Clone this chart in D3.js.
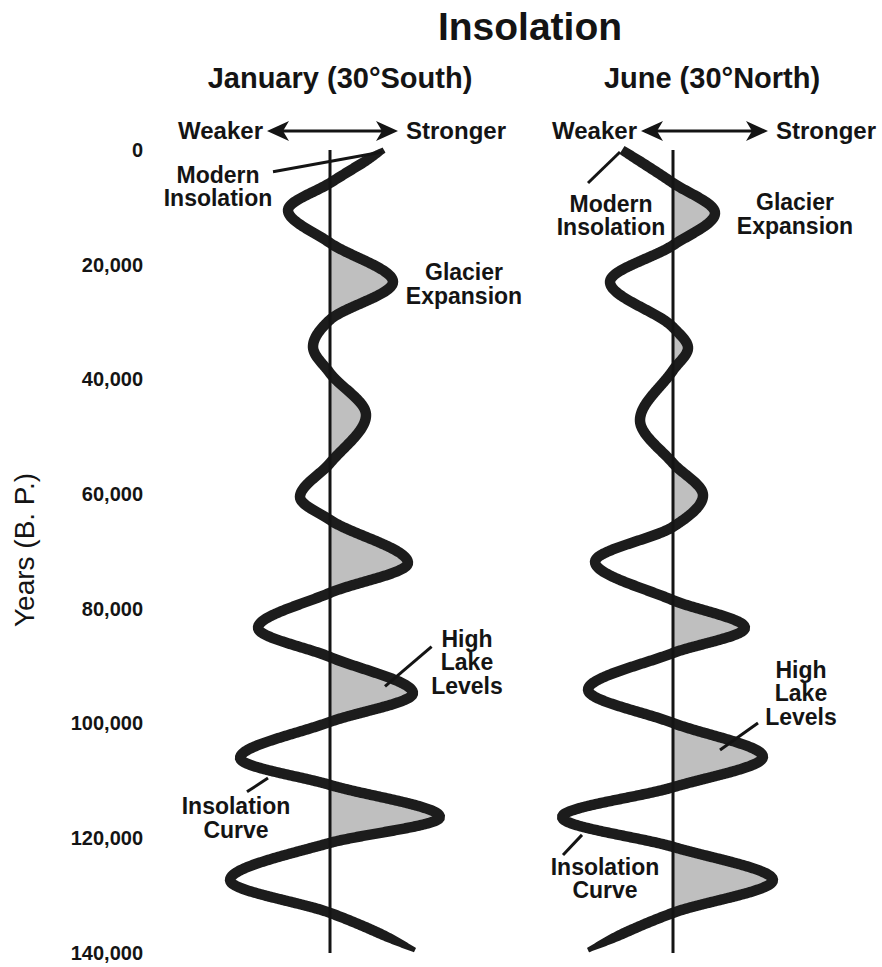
<!DOCTYPE html>
<html>
<head>
<meta charset="utf-8">
<script src="https://cdn.jsdelivr.net/npm/d3@7"></script>
<style>
  body { margin: 0; background: #fff; }
  svg { display: block; font-family: "Liberation Sans", Arial, Helvetica, sans-serif; }
</style>
</head>
<body>
<svg id="chart" width="882" height="967"></svg>
<script>
// Years before present shown on the vertical axis
const yearTicks = [0, 20000, 40000, 60000, 80000, 100000, 120000, 140000];

// January insolation at 30°S: relative anomaly (positive = stronger)
const janYears  = [0, 5750, 10500, 16200, 23000, 29600, 34300, 38900, 46200, 54600, 60500, 64500,
                   72000, 77200, 83300, 88400, 94700, 99700, 106000, 110700, 116300, 120800, 127300, 133000, 139500];
const janValues = [27, 0, -21, 0, 31.5, 0, -8.5, 0, 18, 0, -15, 0,
                   39, 0, -36, 0, 41.5, 0, -45, 0, 55, 0, -50, 0, 42.5];

// June insolation at 30°N: relative anomaly (positive = stronger)
const junYears  = [0, 5750, 11000, 16600, 23000, 30900, 34500, 38400, 47100, 54600, 60200, 65700,
                   71800, 78500, 83300, 87700, 94100, 99900, 105800, 111100, 116300, 121500, 127300, 133000, 139500];
const junValues = [-25.5, 0, 21, 0, -31.5, 0, 7.5, 0, -16.5, 0, 15, 0,
                   -39, 0, 36, 0, -42.5, 0, 45, 0, -55.5, 0, 50, 0, -42.5];

// Shaded (positive) portion of each record, in years
const janShade = [5750, 133000];
const junShade = [0, 140000];

const svg = d3.select("#chart");
const ink = "#141414";

const y = d3.scaleLinear().domain([0, 140000]).range([150, 953]);

// Title
svg.append("text")
  .attr("x", 530).attr("y", 40)
  .attr("text-anchor", "middle")
  .attr("font-size", 39).attr("font-weight", "bold").attr("fill", ink)
  .text("Insolation");

// Year axis
const yAxis = d3.axisLeft(y).tickValues(yearTicks).tickSize(0).tickPadding(0)
  .tickFormat(d3.format(","));
const gy = svg.append("g").attr("transform", "translate(143,0)").call(yAxis);
gy.select(".domain").remove();
gy.selectAll("text")
  .attr("font-family", "'Liberation Sans', Arial, sans-serif")
  .attr("font-size", 20).attr("font-weight", "bold").attr("fill", ink);

svg.append("text")
  .attr("transform", "translate(34,550) rotate(-90)")
  .attr("text-anchor", "middle")
  .attr("font-size", 28).attr("fill", ink)
  .text("Years (B. P.)");

const panels = [
  {
    header: "January (30°South)", cx: 330, headerDx: 10, arrow: [267, 398],
    years: janYears, values: janValues, shade: janShade, taper: [0.55, 0.45],
    notes: [
      { lines: ["Modern", "Insolation"], at: [-56, 5750], lead: [[-28.5, 3800], [26, 350]] },
      { lines: ["Glacier", "Expansion"], at: [67, 22700] },
      { lines: ["High", "Lake", "Levels"], at: [68.5, 86600], lead: [[50.8, 86600], [27.5, 93500]] },
      { lines: ["Insolation", "Curve"], at: [-47, 115800], lead: [[-41.5, 111900], [-31, 109500]] }
    ]
  },
  {
    header: "June (30°North)", cx: 673, headerDx: 39, arrow: [641, 768],
    years: junYears, values: junValues, shade: junShade, taper: [0.9, 0.45],
    notes: [
      { lines: ["Modern", "Insolation"], at: [-31, 10800], lead: [[-42.5, 5750], [-26.5, 350]] },
      { lines: ["Glacier", "Expansion"], at: [61, 10500] },
      { lines: ["High", "Lake", "Levels"], at: [64, 92000], lead: [[42.5, 99900], [23.5, 104600]] },
      { lines: ["Insolation", "Curve"], at: [-34, 126400], lead: [[-55, 122900], [-45.5, 119400]] }
    ]
  }
];

// Turn a centre-line path into a filled ribbon whose width eases off at both ends
function ribbon(pathNode, width, taper) {
  const L = pathNode.getTotalLength();
  const step = 1.5, n = Math.ceil(L / step);
  const pts = d3.range(n + 1).map(k => pathNode.getPointAtLength(Math.min(L, k * step)));
  const left = [], right = [];
  pts.forEach((p, k) => {
    const a = pts[Math.max(0, k - 1)], b = pts[Math.min(pts.length - 1, k + 1)];
    let dx = b.x - a.x, dy = b.y - a.y;
    const len = Math.hypot(dx, dy) || 1;
    dx /= len; dy /= len;
    const s = k * step;
    let f = 1;
    if (s < 28) f = taper[0] + (1 - taper[0]) * d3.easeSinOut(s / 28);
    if (L - s < 45) f = Math.min(f, taper[1] + (1 - taper[1]) * d3.easeSinOut((L - s) / 45));
    const h = width * f / 2;
    left.push([p.x - dy * h, p.y + dx * h]);
    right.push([p.x + dy * h, p.y - dx * h]);
  });
  return "M" + left.concat(right.reverse()).map(q => q[0].toFixed(2) + "," + q[1].toFixed(2)).join("L") + "Z";
}

panels.forEach((p, i) => {
  const x = d3.scaleLinear().domain([-60, 60]).range([p.cx - 120, p.cx + 120]);
  const pts = p.years.map((yr, k) => ({ year: yr, value: p.values[k] }));
  const g = svg.append("g");

  // Header
  g.append("text")
    .attr("x", p.cx + p.headerDx).attr("y", 88)
    .attr("text-anchor", "middle")
    .attr("font-size", 29).attr("font-weight", "bold").attr("fill", ink)
    .text(p.header);

  // Weaker <-> Stronger arrow
  const ay = 131, [xa, xb] = p.arrow, hl = 22, hh = 10, notch = 6;
  g.append("line")
    .attr("x1", xa + hl - notch).attr("x2", xb - hl + notch)
    .attr("y1", ay).attr("y2", ay)
    .attr("stroke", ink).attr("stroke-width", 3);
  g.append("path")
    .attr("d", `M${xa},${ay} L${xa + hl},${ay - hh} L${xa + hl - notch},${ay} L${xa + hl},${ay + hh} Z` +
               `M${xb},${ay} L${xb - hl},${ay - hh} L${xb - hl + notch},${ay} L${xb - hl},${ay + hh} Z`)
    .attr("fill", ink);
  g.append("text")
    .attr("x", xa - 4).attr("y", 139).attr("text-anchor", "end")
    .attr("font-size", 24).attr("font-weight", "bold").attr("fill", ink)
    .text("Weaker");
  g.append("text")
    .attr("x", xb + 8).attr("y", 139).attr("text-anchor", "start")
    .attr("font-size", 24).attr("font-weight", "bold").attr("fill", ink)
    .text("Stronger");

  // Shaded stronger-than-modern lobes
  const clipId = "clip" + i;
  g.append("clipPath").attr("id", clipId)
    .append("rect")
    .attr("x", x(0)).attr("width", 200)
    .attr("y", y(p.shade[0])).attr("height", y(p.shade[1]) - y(p.shade[0]));

  const area = d3.area()
    .y(d => y(d.year))
    .x0(x(0))
    .x1(d => x(d.value))
    .curve(d3.curveMonotoneY);
  g.append("path")
    .datum(pts)
    .attr("d", area)
    .attr("fill", "#bfbfbf")
    .attr("clip-path", `url(#${clipId})`);

  // Insolation curve: centre line built by the line generator, drawn as a tapered ribbon
  const line = d3.line()
    .y(d => y(d.year))
    .x(d => x(d.value))
    .curve(d3.curveMonotoneY);
  const guide = g.append("path")
    .datum(pts)
    .attr("d", line)
    .attr("fill", "none")
    .attr("stroke", "none");
  g.append("path")
    .attr("d", ribbon(guide.node(), 10.5, p.taper))
    .attr("fill", "#1c1c1c");

  // Modern reference line
  g.append("line")
    .attr("x1", x(0)).attr("x2", x(0))
    .attr("y1", y(0)).attr("y2", y(140000))
    .attr("stroke", ink).attr("stroke-width", 3);

  // Annotations
  p.notes.forEach(n => {
    if (n.lead) {
      g.append("line")
        .attr("x1", x(n.lead[0][0])).attr("y1", y(n.lead[0][1]))
        .attr("x2", x(n.lead[1][0])).attr("y2", y(n.lead[1][1]))
        .attr("stroke", ink).attr("stroke-width", 3);
    }
    const t = g.append("text")
      .attr("x", x(n.at[0])).attr("y", y(n.at[1]))
      .attr("text-anchor", "middle")
      .attr("font-size", 23).attr("font-weight", "bold").attr("fill", ink);
    n.lines.forEach((s, k) => {
      t.append("tspan").attr("x", x(n.at[0])).attr("dy", k === 0 ? 0 : 23.5).text(s);
    });
  });
});
</script>
</body>
</html>
